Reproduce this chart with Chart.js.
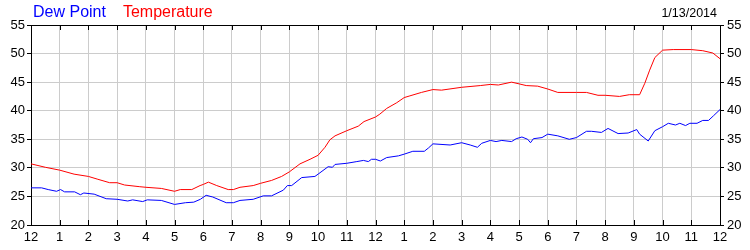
<!DOCTYPE html>
<html>
<head>
<meta charset="utf-8">
<script src="https://cdn.jsdelivr.net/npm/chart.js@4"></script>
<style>
  html, body { margin: 0; padding: 0; background: #fff; }
  canvas { display: block; }
</style>
</head>
<body>
<canvas id="wxChart" width="750" height="250"></canvas>
<script>
// hour of day (0 = midnight) and readings
const tempHours = [0, 0.5, 1, 1.5, 2, 2.33, 2.74, 3, 3.26, 3.79, 4, 4.54, 5, 5.2, 5.6, 5.89, 6, 6.18, 6.47, 6.87, 7.05, 7.28, 7.74, 8, 8.38, 8.73, 9, 9.37, 9.72, 10, 10.24, 10.41, 10.59, 11, 11.4, 11.6, 12, 12.15, 12.39, 12.74, 13, 13.2, 13.6, 14, 14.3, 15, 15.65, 16, 16.28, 16.74, 17, 17.25, 17.65, 18, 18.35, 19, 19.35, 19.75, 20, 20.5, 20.84, 21.2, 21.38, 21.55, 21.73, 22, 22.37, 23, 23.4, 23.75, 24];
const tempValues = [30.7, 30.1, 29.6, 28.9, 28.5, 28.0, 27.4, 27.4, 27.0, 26.7, 26.6, 26.4, 25.9, 26.2, 26.2, 26.9, 27.1, 27.5, 26.9, 26.2, 26.2, 26.6, 26.9, 27.3, 27.8, 28.5, 29.3, 30.7, 31.5, 32.2, 33.6, 34.9, 35.6, 36.5, 37.3, 38.1, 38.9, 39.4, 40.4, 41.4, 42.3, 42.6, 43.2, 43.7, 43.6, 44.1, 44.4, 44.6, 44.5, 45.0, 44.7, 44.4, 44.3, 43.8, 43.2, 43.2, 43.2, 42.7, 42.7, 42.5, 42.8, 42.8, 44.8, 47.1, 49.3, 50.6, 50.7, 50.7, 50.5, 50.1, 49.1];

const dewHours = [0, 0.37, 0.6, 0.89, 1.03, 1.17, 1.52, 1.72, 1.84, 2.2, 2.62, 3, 3.37, 3.54, 3.89, 4.05, 4.54, 5, 5.38, 5.67, 5.9, 6.1, 6.33, 6.8, 7.05, 7.28, 7.74, 8.09, 8.38, 8.79, 8.93, 9.08, 9.43, 9.89, 10, 10.35, 10.5, 10.59, 11, 11.35, 11.58, 11.75, 11.86, 12, 12.17, 12.39, 12.8, 13, 13.3, 13.7, 13.85, 14, 14.6, 15, 15.3, 15.55, 15.7, 16, 16.2, 16.4, 16.74, 16.9, 17.1, 17.3, 17.4, 17.5, 17.8, 18, 18.35, 18.75, 19, 19.35, 19.52, 19.87, 20.1, 20.45, 20.8, 21.1, 21.2, 21.5, 21.73, 22, 22.2, 22.45, 22.6, 22.8, 22.95, 23.2, 23.4, 23.6, 23.77, 24];
const dewValues = [26.5, 26.5, 26.2, 25.9, 26.2, 25.8, 25.8, 25.3, 25.6, 25.4, 24.6, 24.5, 24.2, 24.4, 24.1, 24.4, 24.3, 23.6, 23.9, 24.0, 24.5, 25.2, 24.9, 23.9, 23.9, 24.3, 24.5, 25.1, 25.1, 26.1, 26.9, 26.9, 28.3, 28.5, 28.9, 30.2, 30.1, 30.6, 30.8, 31.1, 31.3, 31.1, 31.5, 31.5, 31.2, 31.8, 32.1, 32.4, 32.9, 32.9, 33.5, 34.2, 34.0, 34.4, 34.0, 33.6, 34.3, 34.8, 34.6, 34.8, 34.6, 35.1, 35.4, 35.0, 34.4, 35.1, 35.3, 35.9, 35.6, 35.0, 35.3, 36.4, 36.4, 36.2, 36.9, 36.0, 36.1, 36.7, 35.9, 34.7, 36.5, 37.2, 37.8, 37.5, 37.8, 37.4, 37.8, 37.8, 38.3, 38.3, 39.1, 40.2];

const seriesNames = ['Dew Point', 'Temperature'];
const seriesColors = ['#0000ff', '#ff0000'];
const dateLabel = '1/13/2014';

const FONT = 'Arial, "Liberation Sans", sans-serif';
const gridGrey = '#cccccc';

function toPoints(xs, ys) {
  return xs.map((h, i) => ({ x: h, y: ys[i] }));
}

// legend text at top-left, date at top-right, small inner tick marks on x axis
const decorations = {
  id: 'decorations',
  afterDraw(chart) {
    const c = chart.ctx;
    const area = chart.chartArea;
    c.save();
    c.textBaseline = 'alphabetic';
    c.font = '16px ' + FONT;
    let x = 33;
    seriesNames.forEach((name, i) => {
      c.fillStyle = seriesColors[i];
      c.textAlign = 'left';
      c.fillText(name, x, 17);
      x += c.measureText(name).width + 17;
    });
    c.font = '12.5px ' + FONT;
    c.fillStyle = '#000';
    c.textAlign = 'right';
    c.fillText(dateLabel, 717, 17);

    const xs = chart.scales.x;
    c.strokeStyle = '#000';
    c.lineWidth = 1;
    c.beginPath();
    xs.ticks.forEach(t => {
      const px = Math.round(xs.getPixelForValue(t.value)) + 0.5;
      c.moveTo(px, area.top);
      c.lineTo(px, area.top + 5);
      c.moveTo(px, area.bottom);
      c.lineTo(px, area.bottom - 5);
    });
    c.stroke();
    c.restore();
  }
};

const yTicks = {
  stepSize: 5,
  color: '#000',
  font: { family: FONT, size: 13 }
};

new Chart(document.getElementById('wxChart'), {
  type: 'line',
  data: {
    datasets: [
      {
        label: seriesNames[0],
        data: toPoints(dewHours, dewValues),
        borderColor: seriesColors[0],
        borderWidth: 1,
        pointRadius: 0,
        tension: 0,
        fill: false
      },
      {
        label: seriesNames[1],
        data: toPoints(tempHours, tempValues),
        borderColor: seriesColors[1],
        borderWidth: 1,
        pointRadius: 0,
        tension: 0,
        fill: false
      }
    ]
  },
  options: {
    responsive: false,
    animation: false,
    layout: { padding: { top: 25, left: 0, right: 0, bottom: 0 } },
    plugins: {
      legend: { display: false },
      tooltip: { enabled: false }
    },
    scales: {
      x: {
        type: 'linear',
        min: 0,
        max: 24,
        afterFit: s => { s.height = 25; },
        ticks: {
          stepSize: 1,
          autoSkip: false,
          maxRotation: 0,
          padding: 5,
          color: '#000',
          font: { family: FONT, size: 13 },
          callback: v => ((v + 11) % 12) + 1
        },
        grid: { color: gridGrey, drawTicks: false },
        border: { color: '#000' }
      },
      y: {
        position: 'left',
        min: 20,
        max: 55,
        afterFit: s => { s.width = 31; },
        ticks: Object.assign({ padding: 2 }, yTicks),
        grid: {
          color: c => (c.tick && c.tick.value === 55) ? '#000' : gridGrey,
          tickColor: '#000',
          tickLength: 4
        },
        border: { color: '#000' }
      },
      y2: {
        position: 'right',
        min: 20,
        max: 55,
        afterFit: s => { s.width = 30; },
        ticks: Object.assign({ padding: 3 }, yTicks),
        grid: {
          drawOnChartArea: false,
          tickColor: '#000',
          tickLength: 4
        },
        border: { color: '#000' }
      }
    }
  },
  plugins: [decorations]
});
</script>
</body>
</html>
